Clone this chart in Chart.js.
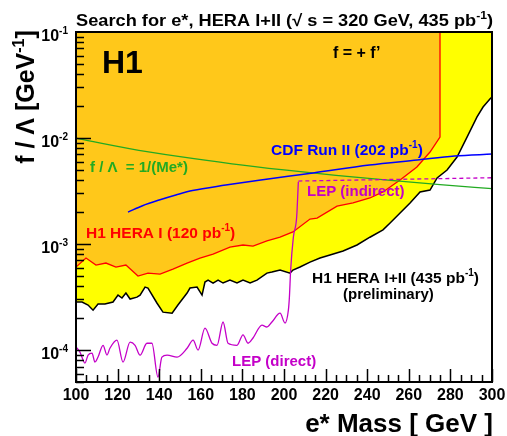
<!DOCTYPE html>
<html>
<head>
<meta charset="utf-8">
<script src="https://cdn.jsdelivr.net/npm/chart.js@4"></script>
<style>
  html, body { margin: 0; padding: 0; background: #fff; }
  #wrap { width: 507px; height: 436px; }
</style>
</head>
<body>
<div id="wrap"><canvas id="chart" width="507" height="436"></canvas></div>
<script>
// e* search limits, f/Lambda vs e* mass

// H1 HERA I+II (435 pb-1), preliminary
const massH1All = [100, 102.9, 105.8, 108.2, 110.6, 113.9, 117.8, 120.2, 122.1, 124, 126, 129.3, 130.8, 133.2, 134.6,
  138.9, 141.8, 146.2, 149, 153.4, 154.8, 158.2, 160.6, 162, 163.5, 165.9, 168.3, 170.7, 174, 177.4, 180.3, 183.7,
  187, 191.8, 194.2, 198.1, 202.9, 204.3, 207.7, 212.5, 217.3, 222.1, 228.4, 235.1, 241.3, 247.6, 251, 255.8,
  260.6, 265.4, 270.2, 273.6, 278.4, 283.2, 288, 292.8, 295.7, 299, 300];
const limH1All = [2.84e-4, 2.84e-4, 2.66e-4, 2.38e-4, 2.72e-4, 2.72e-4, 2.84e-4, 3.30e-4, 3.10e-4, 3.45e-4, 3.03e-4,
  3.16e-4, 3.30e-4, 3.93e-4, 3.85e-4, 2.78e-4, 2.28e-4, 2.23e-4, 2.66e-4, 3.45e-4, 3.85e-4, 3.93e-4, 3.30e-4,
  4.38e-4, 4.57e-4, 4.29e-4, 4.57e-4, 4.29e-4, 4.57e-4, 4.29e-4, 4.57e-4, 4.29e-4, 4.57e-4, 5.32e-4, 5.44e-4,
  5.69e-4, 5.32e-4, 5.69e-4, 6.07e-4, 6.76e-4, 7.38e-4, 7.87e-4, 8.59e-4, 9.80e-4, 1.16e-3, 1.36e-3, 1.58e-3,
  1.96e-3, 2.44e-3, 3.10e-3, 3.23e-3, 4.20e-3, 4.99e-3, 6.62e-3, 1.02e-2, 1.58e-2, 1.96e-2, 2.33e-2, 2.44e-2];

// H1 HERA I (120 pb-1)
const massH1I = [100, 104.8, 109.6, 114.4, 119.2, 124, 129.8, 134.6, 140.4, 146.6, 153.4, 159.6, 165.9, 174, 180.3,
  185.1, 191.8, 198.1, 204.3, 212.5, 215.9, 225.5, 233.2, 241.3, 247.6, 255.8, 263.9, 270.2, 275, 275];
const limH1I = [6.07e-4, 7.38e-4, 6.34e-4, 6.62e-4, 6.07e-4, 6.34e-4, 4.99e-4, 5.32e-4, 5.21e-4, 5.81e-4, 6.62e-4,
  7.38e-4, 8.05e-4, 9.37e-4, 9.80e-4, 9.58e-4, 1.07e-3, 1.16e-3, 1.30e-3, 1.72e-3, 1.76e-3, 2.28e-3, 2.44e-3,
  2.72e-3, 3.10e-3, 4.02e-3, 5.33e-3, 7.38e-3, 1.02e-2, 1.0e-1];

// CDF Run II (202 pb-1)
const massCDF = [125, 132, 140, 148, 156, 172, 188, 214, 241, 264, 282, 300];
const limCDF = [2.0e-3, 2.3e-3, 2.6e-3, 2.9e-3, 3.2e-3, 3.6e-3, 4.0e-3, 4.68e-3, 5.56e-3, 6.2e-3, 6.76e-3, 7.06e-3];

// f / Lambda = 1/M
const massMe = [100, 125, 150, 175, 200, 225, 250, 275, 300];
const limMe = [1.0e-2, 8.0e-3, 6.67e-3, 5.71e-3, 5.0e-3, 4.44e-3, 4.0e-3, 3.64e-3, 3.33e-3];

// LEP (direct)
const massLEPdir = [100, 101.9, 104.3, 105.8, 107.7, 109.1, 110.6, 113, 114.9, 116.3, 119.7, 122.6, 126, 128.4, 130.8,
  134.1, 136.5, 139.4, 141.3, 143.8, 148.6, 153.4, 156.3, 158.7, 162, 165.4, 167.8, 170.7, 173.1, 177.4, 180.3,
  182.7, 185.1, 189.4, 191.8, 194.2, 198.1, 200.5, 202.1, 202.6, 203.2, 204.5, 206.1, 206.9];
const limLEPdir = [1.07e-4, 9.58e-5, 7.54e-5, 8.97e-5, 9.37e-5, 7.71e-5, 8.59e-5, 1.11e-4, 8.97e-5, 1.04e-4, 1.24e-4,
  7.71e-5, 1.19e-4, 1.11e-4, 8.97e-5, 1.16e-4, 1.16e-4, 5.56e-5, 8.59e-5, 8.97e-5, 8.59e-5, 1.04e-4, 1.24e-4,
  1.00e-4, 1.61e-4, 1.16e-4, 1.11e-4, 1.84e-4, 1.16e-4, 1.11e-4, 1.39e-4, 1.16e-4, 1.30e-4, 1.72e-4, 1.65e-4,
  1.84e-4, 2.23e-4, 1.80e-4, 2.38e-4, 3.16e-4, 5.69e-4, 1.16e-3, 1.81e-3, 3.87e-3];

// LEP (indirect)
const massLEPind = [206.9, 300];
const limLEPind = [3.93e-3, 4.22e-3];

const xTicks = [100, 120, 140, 160, 180, 200, 220, 240, 260, 280, 300];
const yExps = [-4, -3, -2, -1];

const ORANGE = "#FFC81A";
const YELLOW = "#FFFF00";
const MAGENTA = "#C400C8";
const GREEN = "#22AA22";
const FONT = "'Liberation Sans', Arial, Helvetica, sans-serif";

function pts(xs, ys) {
  return xs.map((x, i) => ({ x: x, y: ys[i] }));
}

function richWidth(ctx, parts, size) {
  const supSize = Math.round(size * 0.65);
  let total = 0;
  parts.forEach((p) => {
    ctx.font = "bold " + (p[1] ? supSize : size) + "px " + FONT;
    total += ctx.measureText(p[0]).width;
  });
  return total;
}

// draw text with superscript parts: [["text", false], ["-1", true]]
function rich(ctx, x, y, parts, size, color, align) {
  const supSize = Math.round(size * 0.65);
  const total = richWidth(ctx, parts, size);
  let cx = x;
  if (align === "right") cx = x - total;
  if (align === "center") cx = x - total / 2;
  ctx.fillStyle = color;
  ctx.textAlign = "left";
  ctx.textBaseline = "alphabetic";
  parts.forEach((p) => {
    ctx.font = "bold " + (p[1] ? supSize : size) + "px " + FONT;
    ctx.fillText(p[0], cx, p[1] ? y - size * 0.42 : y);
    cx += ctx.measureText(p[0]).width;
  });
}

const titleParts = [["Search for e*, HERA I+II (\u221A s = 320 GeV, 435 pb", false], ["-1", true], [")", false]];

const labels = [
  { x: 102, y: 73, size: 32, color: "#000", parts: [["H1", false]] },
  { x: 333, y: 58, size: 16, color: "#000", parts: [["f = + f\u2019", false]] },
  { x: 271, y: 155, size: 15.5, color: "#0000FF", parts: [["CDF Run II (202 pb", false], ["-1", true], [")", false]] },
  { x: 90, y: 172, size: 15, color: GREEN, parts: [["f / \u039B  = 1/(Me*)", false]] },
  { x: 307, y: 196, size: 15, color: MAGENTA, parts: [["LEP (indirect)", false]] },
  { x: 86, y: 238, size: 15.5, color: "#FF0000", parts: [["H1 HERA I (120 pb", false], ["-1", true], [")", false]] },
  { x: 312, y: 283, size: 15.5, color: "#000", parts: [["H1 HERA I+II (435 pb", false], ["-1", true], [")", false]] },
  { x: 343, y: 299, size: 15, color: "#000", parts: [["(preliminary)", false]] },
  { x: 232, y: 366, size: 15, color: MAGENTA, parts: [["LEP (direct)", false]] },
];

const frame = {
  id: "frame",
  afterDatasetsDraw(chart) {
    const ctx = chart.ctx;
    const a = chart.chartArea;
    const xs = chart.scales.x;
    const ys = chart.scales.y;
    ctx.save();
    ctx.strokeStyle = "#000";
    ctx.lineWidth = 1.5;
    ctx.beginPath();
    // x ticks, inward from the bottom
    for (let m = 100; m <= 300; m += 5) {
      const px = Math.round(xs.getPixelForValue(m)) + 0.5;
      const len = m % 20 === 0 ? 13 : 7;
      ctx.moveTo(px, a.bottom);
      ctx.lineTo(px, a.bottom - len);
    }
    // y ticks, inward from the left
    yExps.forEach((e) => {
      for (let k = 1; k <= 9; k++) {
        const v = k * Math.pow(10, e - 1);
        if (v < ys.min || v > ys.max) continue;
        const py = Math.round(ys.getPixelForValue(v)) + 0.5;
        ctx.moveTo(a.left, py);
        ctx.lineTo(a.left + (k === 1 ? 15 : 8), py);
      }
    });
    ctx.stroke();
    ctx.lineWidth = 2;
    ctx.strokeRect(a.left, a.top, a.right - a.left, a.bottom - a.top);
    ctx.restore();
  },
  afterDraw(chart) {
    const ctx = chart.ctx;
    const xs = chart.scales.x;
    const ys = chart.scales.y;
    ctx.save();
    // x tick labels
    xTicks.forEach((m) => {
      rich(ctx, xs.getPixelForValue(m), 400, [[String(m), false]], 16, "#000", "center");
    });
    // y tick labels 10^n
    yExps.forEach((e) => {
      const py = ys.getPixelForValue(Math.pow(10, e));
      rich(ctx, 68, py + 9, [["10", false], [String(e), true]], 16, "#000", "right");
    });
    // title, stretched to span the frame width
    ctx.save();
    const tw = richWidth(ctx, titleParts, 16.5);
    ctx.translate(76, 26);
    ctx.scale(417 / tw, 1);
    rich(ctx, 0, 0, titleParts, 16.5, "#000", "left");
    ctx.restore();
    // axis titles
    rich(ctx, 493, 432, [["e* Mass [ GeV ]", false]], 26, "#000", "right");
    ctx.save();
    ctx.translate(34, 97);
    ctx.rotate(-Math.PI / 2);
    rich(ctx, 0, 0, [["f / \u039B [GeV", false], ["-1", true], ["]", false]], 25, "#000", "center");
    ctx.restore();
    labels.forEach((l) => rich(ctx, l.x, l.y, l.parts, l.size, l.color, "left"));
    ctx.restore();
  },
};

new Chart(document.getElementById("chart"), {
  type: "line",
  data: {
    datasets: [
      { data: pts(massH1All, limH1All), borderColor: "#000", borderWidth: 1.5, fill: "end", backgroundColor: YELLOW, order: 10 },
      { data: pts(massH1I, limH1I), borderColor: "#FF0000", borderWidth: 1.3, fill: "end", backgroundColor: ORANGE, order: 9 },
      { data: pts(massMe, limMe), borderColor: GREEN, borderWidth: 1.3, fill: false, cubicInterpolationMode: "monotone", order: 5 },
      { data: pts(massCDF, limCDF), borderColor: "#0000FF", borderWidth: 1.5, fill: false, cubicInterpolationMode: "monotone", order: 4 },
      { data: pts(massLEPind, limLEPind), borderColor: MAGENTA, borderWidth: 1.3, borderDash: [4, 3], fill: false, order: 3 },
      { data: pts(massLEPdir, limLEPdir), borderColor: MAGENTA, borderWidth: 1.3, fill: false, cubicInterpolationMode: "monotone", order: 2 },
    ],
  },
  options: {
    responsive: false,
    animation: false,
    layout: { padding: { left: 76, top: 32, right: 15, bottom: 54 } },
    elements: { point: { radius: 0 }, line: { tension: 0 } },
    plugins: { legend: { display: false }, tooltip: { enabled: false } },
    scales: {
      x: { type: "linear", min: 100, max: 300, display: false },
      y: { type: "logarithmic", min: 5e-5, max: 0.1, display: false },
    },
  },
  plugins: [frame],
});
</script>
</body>
</html>
